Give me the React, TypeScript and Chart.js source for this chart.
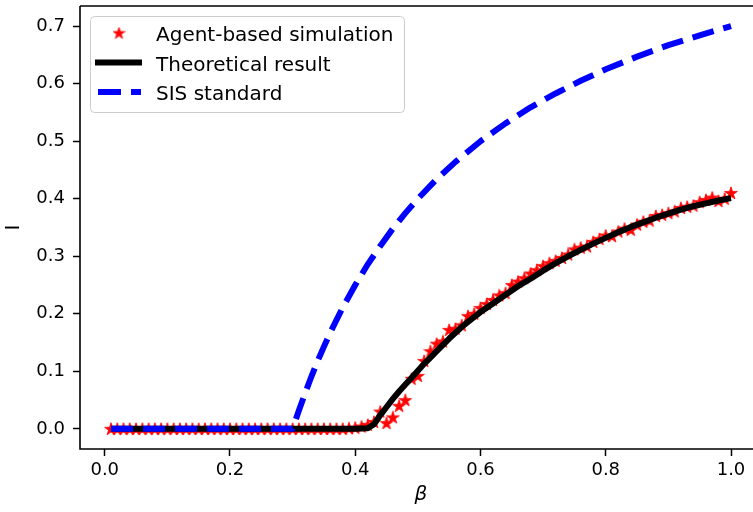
import React, { useEffect, useRef } from "react";
import { Chart, registerables } from "chart.js";

Chart.register(...registerables);

// ---------- data ----------
const simX = [
  0.01, 0.02, 0.03, 0.04, 0.05, 0.06, 0.07, 0.08, 0.09, 0.1,
  0.11, 0.12, 0.13, 0.14, 0.15, 0.16, 0.17, 0.18, 0.19, 0.2,
  0.21, 0.22, 0.23, 0.24, 0.25, 0.26, 0.27, 0.28, 0.29, 0.3,
  0.31, 0.32, 0.33, 0.34, 0.35, 0.36, 0.37, 0.38, 0.39, 0.4,
  0.41, 0.42, 0.43, 0.44, 0.45, 0.46, 0.47, 0.48, 0.49, 0.5,
  0.51, 0.52, 0.53, 0.54, 0.55, 0.56, 0.57, 0.58, 0.59, 0.6,
  0.61, 0.62, 0.63, 0.64, 0.65, 0.66, 0.67, 0.68, 0.69, 0.7,
  0.71, 0.72, 0.73, 0.74, 0.75, 0.76, 0.77, 0.78, 0.79, 0.8,
  0.81, 0.82, 0.83, 0.84, 0.85, 0.86, 0.87, 0.88, 0.89, 0.9,
  0.91, 0.92, 0.93, 0.94, 0.95, 0.96, 0.97, 0.98, 0.99, 1.0,
];
const simY = [
  0, 0, 0, 0, 0, 0, 0, 0, 0, 0,
  0, 0, 0, 0, 0, 0, 0, 0, 0, 0,
  0, 0, 0, 0, 0, 0, 0, 0, 0, 0,
  0, 0, 0, 0, 0, 0, 0, 0, 0.001, 0.002,
  0.004, 0.007, 0.012, 0.03, 0.01, 0.02, 0.04, 0.05, 0.087, 0.092,
  0.118, 0.135, 0.148, 0.152, 0.172, 0.174, 0.18, 0.196, 0.2, 0.21,
  0.217, 0.224, 0.232, 0.236, 0.25, 0.256, 0.262, 0.27, 0.276, 0.283,
  0.288, 0.292, 0.297, 0.303, 0.312, 0.315, 0.317, 0.325, 0.33, 0.336,
  0.335, 0.343, 0.348, 0.346, 0.355, 0.36, 0.362, 0.37, 0.372, 0.375,
  0.378, 0.384, 0.386, 0.388, 0.394, 0.398, 0.402, 0.396, 0.4, 0.41,
];

const theoryX = [
  0.01, 0.1, 0.2, 0.3, 0.4, 0.42, 0.43, 0.44, 0.45, 0.46, 0.47, 0.48, 0.49,
  0.5, 0.51, 0.52, 0.53, 0.54, 0.55, 0.56, 0.57, 0.58, 0.6, 0.62, 0.64,
  0.66, 0.68, 0.7, 0.72, 0.74, 0.76, 0.78, 0.8, 0.82, 0.84, 0.86, 0.88,
  0.9, 0.92, 0.94, 0.96, 0.98, 1.0,
];
const theoryY = [
  0, 0, 0, 0, 0, 0.001, 0.008, 0.024, 0.038, 0.052, 0.065, 0.077, 0.089,
  0.101, 0.113, 0.124, 0.135, 0.146, 0.157, 0.167, 0.177, 0.186, 0.203, 0.218, 0.233,
  0.248, 0.261, 0.275, 0.288, 0.3, 0.311, 0.322, 0.332, 0.342, 0.351, 0.359, 0.367,
  0.374, 0.381, 0.387, 0.392, 0.397, 0.401,
];

const sisX = [
  0.01, 0.1, 0.2, 0.3, 0.305, 0.31, 0.32, 0.33, 0.34, 0.35, 0.36, 0.38, 0.4,
  0.42, 0.44, 0.46, 0.48, 0.5, 0.53, 0.56, 0.6, 0.64, 0.68, 0.72, 0.76, 0.8,
  0.85, 0.9, 0.95, 1.0,
];
const sisY = [
  0, 0, 0, 0, 0.016, 0.032, 0.062, 0.091, 0.118, 0.143, 0.167, 0.211, 0.25,
  0.286, 0.318, 0.348, 0.375, 0.4, 0.434, 0.464, 0.5, 0.531, 0.559, 0.583, 0.605, 0.625,
  0.647, 0.667, 0.684, 0.7,
];

const xTicks = [0.0, 0.2, 0.4, 0.6, 0.8, 1.0];
const yTicks = [0.0, 0.1, 0.2, 0.3, 0.4, 0.5, 0.6, 0.7];

const legendLabels = ["Agent-based simulation", "Theoretical result", "SIS standard"];

const FONT = "'DejaVu Sans', sans-serif";

function makeStar(size: number, color: string): HTMLCanvasElement {
  const c = document.createElement("canvas");
  c.width = size;
  c.height = size;
  const ctx = c.getContext("2d")!;
  const cx = size / 2;
  const cy = size / 2 + 0.5;
  const R = size / 2 - 0.3;
  const r = R * 0.382;
  ctx.beginPath();
  for (let i = 0; i < 10; i++) {
    const a = -Math.PI / 2 + (i * Math.PI) / 5;
    const rad = i % 2 === 0 ? R : r;
    const px = cx + rad * Math.cos(a);
    const py = cy + rad * Math.sin(a);
    if (i === 0) ctx.moveTo(px, py);
    else ctx.lineTo(px, py);
  }
  ctx.closePath();
  ctx.fillStyle = color;
  ctx.fill();
  ctx.lineWidth = 0.8;
  ctx.strokeStyle = color;
  ctx.stroke();
  return c;
}

export default function App() {
  const ref = useRef<HTMLCanvasElement | null>(null);

  useEffect(() => {
    const canvas = ref.current;
    if (!canvas) return;
    const star = makeStar(14, "#ff0000");
    const legendStar = makeStar(13, "#ff0000");

    const framePlugin = {
      id: "frame",
      afterDatasetsDraw(chart: any) {
        const { ctx, chartArea } = chart;
        ctx.save();
        ctx.strokeStyle = "#000";
        ctx.lineWidth = 1.6;
        ctx.beginPath();
        ctx.moveTo(chartArea.left, chartArea.top);
        ctx.lineTo(chartArea.right, chartArea.top);
        ctx.moveTo(chartArea.left, chartArea.top);
        ctx.lineTo(chartArea.left, chartArea.bottom);
        ctx.lineTo(chartArea.right, chartArea.bottom);
        ctx.stroke();
        ctx.restore();
      },
    };

    const legendPlugin = {
      id: "mplLegend",
      afterDraw(chart: any) {
        const { ctx } = chart;
        ctx.save();
        const bx = 90.5, by = 16.5, bw = 314, bh = 96;
        ctx.beginPath();
        (ctx as any).roundRect(bx, by, bw, bh, 4);
        ctx.fillStyle = "rgba(255,255,255,0.8)";
        ctx.fill();
        ctx.strokeStyle = "#cccccc";
        ctx.lineWidth = 1;
        ctx.stroke();

        // row 1 : star
        ctx.drawImage(legendStar, 119 - legendStar.width / 2, 33 - legendStar.height / 2);
        // row 2 : black line
        ctx.strokeStyle = "#000";
        ctx.lineWidth = 6;
        ctx.lineCap = "butt";
        ctx.beginPath();
        ctx.moveTo(95, 62.5);
        ctx.lineTo(142, 62.5);
        ctx.stroke();
        // row 3 : blue dashed
        ctx.strokeStyle = "#0000ff";
        ctx.beginPath();
        ctx.moveTo(98, 92);
        ctx.lineTo(121, 92);
        ctx.moveTo(131, 92);
        ctx.lineTo(141, 92);
        ctx.stroke();

        ctx.fillStyle = "#000";
        ctx.font = `20px ${FONT}`;
        ctx.textBaseline = "alphabetic";
        ctx.textAlign = "left";
        ctx.fillText(legendLabels[0], 156, 40.5);
        ctx.fillText(legendLabels[1], 156, 70.5);
        ctx.fillText(legendLabels[2], 156, 100);
        ctx.restore();
      },
    };

    const toPts = (xs: number[], ys: number[]) => xs.map((x, i) => ({ x, y: ys[i] }));

    const chart = new Chart(canvas, {
      type: "scatter",
      data: {
        datasets: [
          {
            label: legendLabels[2],
            data: toPts(sisX, sisY),
            showLine: true,
            borderColor: "#0000ff",
            borderWidth: 6,
            borderDash: [22, 10],
            borderCapStyle: "butt",
            borderJoinStyle: "round",
            pointRadius: 0,
            pointHoverRadius: 0,
            fill: false,
            tension: 0,
            order: 0,
          },
          {
            label: legendLabels[1],
            data: toPts(theoryX, theoryY),
            showLine: true,
            borderColor: "#000000",
            borderWidth: 6,
            borderCapStyle: "butt",
            borderJoinStyle: "round",
            pointRadius: 0,
            pointHoverRadius: 0,
            fill: false,
            tension: 0,
            order: 1,
          },
          {
            label: legendLabels[0],
            data: toPts(simX, simY),
            showLine: false,
            pointStyle: star as any,
            pointRadius: 5,
            pointHoverRadius: 5,
            backgroundColor: "#ff0000",
            borderColor: "#ff0000",
            order: 2,
          },
        ],
      },
      options: {
        responsive: false,
        animation: false,
        devicePixelRatio: 1,
        layout: { padding: { left: 0, top: 6, right: 18, bottom: 0 } },
        plugins: {
          legend: { display: false },
          tooltip: { enabled: false },
        },
        scales: {
          x: {
            type: "linear",
            min: -0.0395,
            max: 1.0495,
            afterBuildTicks: (s: any) => {
              s.ticks = xTicks.map((v) => ({ value: v }));
            },
            afterFit: (s: any) => {
              s.height = 63;
              s.paddingLeft = 0;
              s.paddingRight = 0;
            },
            grid: {
              drawOnChartArea: false,
              drawTicks: true,
              tickLength: 7,
              tickColor: "#000",
              tickWidth: 1.5,
            },
            border: { display: false },
            ticks: {
              color: "#000",
              font: { family: FONT, size: 18 },
              padding: 4,
              maxRotation: 0,
              autoSkip: false,
              callback: (v: any) => Number(v).toFixed(1),
            },
            title: {
              display: true,
              text: "β",
              color: "#000",
              font: { family: FONT, size: 20, style: "italic" },
              padding: { top: 0, bottom: 5 },
            },
          },
          y: {
            type: "linear",
            min: -0.035,
            max: 0.735,
            afterBuildTicks: (s: any) => {
              s.ticks = yTicks.map((v) => ({ value: v }));
            },
            afterFit: (s: any) => {
              s.width = 80;
              s.paddingTop = 0;
              s.paddingBottom = 0;
            },
            grid: {
              drawOnChartArea: false,
              drawTicks: true,
              tickLength: 7,
              tickColor: "#000",
              tickWidth: 1.5,
            },
            border: { display: false },
            ticks: {
              color: "#000",
              font: { family: FONT, size: 18 },
              padding: 8,
              callback: (v: any) => Number(v).toFixed(1),
            },
            title: {
              display: true,
              text: "I",
              color: "#000",
              font: { family: FONT, size: 20 },
              padding: { top: 2, bottom: 0 },
            },
          },
        },
      },
      plugins: [framePlugin, legendPlugin],
    });

    return () => chart.destroy();
  }, []);

  return (
    <div
      style={{
        position: "absolute",
        left: 0,
        top: 0,
        width: 753,
        height: 512,
        overflow: "hidden",
        background: "#fff",
      }}
    >
      <canvas ref={ref} width={780} height={512} style={{ display: "block" }} />
    </div>
  );
}
